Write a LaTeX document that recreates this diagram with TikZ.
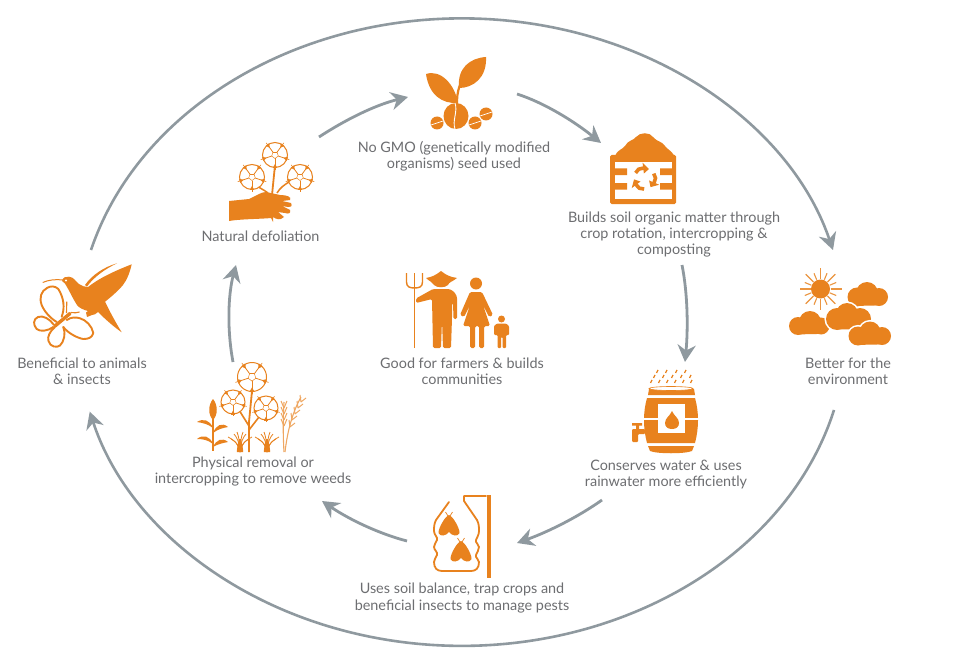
\documentclass[tikz,border=0pt]{standalone}
\usepackage{fontspec}
\setmainfont{Lato}
\usetikzlibrary{arrows.meta}
\definecolor{ico}{HTML}{E8821E}
\definecolor{lbl}{HTML}{6D6E71}
\definecolor{con}{HTML}{8F999F}
\tikzset{
  lab/.style={text=lbl,align=center,inner sep=0pt,font=\fontsize{14.4}{16.4}\selectfont},
  conn/.style={draw=con,line width=2.8pt,-{Stealth[length=17pt,width=18pt,inset=5.5pt]}},
  ring/.style={draw=con,line width=2.6pt,-{Stealth[length=17pt,width=18pt,inset=5.5pt]}},
  line ico/.style={draw=ico,fill=none,line width=2pt,line cap=round,line join=round},
}
\newcommand{\cottonfl}[3]{%
 \begin{scope}[shift={(#1,#2)}]
  \draw[draw=ico,line width=1pt,fill=white] (0,0) circle[radius=#3];
  \foreach \a in {90,162,234,306,18}{
   \draw[draw=ico,line width=.8pt] (\a:#3*.28) -- (\a:#3);
   \draw[draw=ico,line width=.5pt] (\a:#3*.28) -- (\a+72:#3*.28);
   \fill[ico] (\a:#3*.72) -- (\a+9:#3) -- (\a-9:#3) -- cycle;
   \draw[draw=ico,line width=.6pt] (\a:#3*.9) -- (\a:#3*1.2);
   \draw[draw=ico,line width=.6pt] (\a+8:#3*1.02) -- (\a-8:#3*1.02);
  }
 \end{scope}}
% three overlapping lobes, with a white edge against what lies behind
\newcommand{\cloudicon}[9]{%
  \fill[white] (#1,#2) circle[radius=#3+1.6] (#4,#5) circle[radius=#6+1.6] (#7,#8) circle[radius=#9+1.6];
  \draw[white,line width=3pt,fill=white] (#1,#2+#3) -- (#7,#8+#9) -- (#4,#5) -- cycle;
  \fill[ico] (#1,#2) circle[radius=#3] (#4,#5) circle[radius=#6] (#7,#8) circle[radius=#9];
  \fill[ico] (#1,#2+#3-.6) -- (#7,#8+#9-.6) -- (#4,#5) -- cycle;}
\newcommand{\mothicon}[2]{%
 \begin{scope}[shift={(#1,#2)}]
  \fill[ico] (0,-9) .. controls (-4,-8) and (-11,5) .. (-10.5,9) .. controls (-9,13) and (-3,12) .. (0,8) .. controls (3,12) and (9,13) .. (10.5,9) .. controls (11,5) and (4,-8) .. (0,-9) -- cycle;
  \draw[draw=ico,line width=.7pt] (-1,-8) -- (-3.5,-12) (1,-8) -- (3.5,-12);
 \end{scope}}
\newcommand{\tuft}[2]{%
 \begin{scope}[shift={(#1,#2)}]
  \foreach \dx/\h in {-12/-15,-9/-13,-6/-18,-3/-20,3/-20,6/-18,9/-13,12/-15}{
   \draw[draw=ico,line width=.8pt] (0,0) .. controls (\dx*.15,\h*.6) and (\dx*.5,\h*.8) .. (\dx,\h);}
  \fill[ico] (-3.2,0) .. controls (-3,-5) and (-2,-8) .. (-1,-13) -- (1,-13) .. controls (2,-8) and (3,-5) .. (3.2,0) -- cycle;
 \end{scope}}
\begin{document}
\begin{tikzpicture}[x=1pt,y=-1pt]
\useasboundingbox (0,0) rectangle (957,655);
\fill[white] (0,0) rectangle (957,655);

% ---- outer ring
\coordinate (ringA) at (91,250);
\coordinate (ringB) at (834,410);
\draw[ring] (ringA) arc[start angle=164.5,end angle=15.5,x radius=385pt,y radius=316pt];
\draw[ring] (ringB) arc[start angle=-14.7,end angle=-165,x radius=385pt,y radius=316pt];

% ---- inner connectors
\coordinate (a1) at (319,137); \coordinate (a2) at (408,97);
\coordinate (b1) at (517,94);  \coordinate (b2) at (601,143);
\coordinate (c1) at (682,265); \coordinate (c2) at (685,362);
\coordinate (d1) at (602,500); \coordinate (d2) at (517,543);
\coordinate (e1) at (407,541); \coordinate (e2) at (322,501);
\coordinate (f1) at (233,362); \coordinate (f2) at (236,265);
\draw[conn] (a1) .. controls (345,120) and (375,105) .. (a2);
\draw[conn] (b1) .. controls (545,103) and (575,122) .. (b2);
\draw[conn] (c1) .. controls (688,295) and (688,330) .. (c2);
\draw[conn] (d1) .. controls (575,519) and (545,533) .. (d2);
\draw[conn] (e1) .. controls (380,534) and (350,520) .. (e2);
\draw[conn] (f1) .. controls (227,330) and (228,295) .. (f2);

% ---- labels
\node[lab] (gmo) at (454,156) {No GMO (genetically modified\\organisms) seed used};
\node[lab] (soil) at (674,234.5) {Builds soil organic matter through\\crop rotation, intercropping \&\\composting};
\node[lab] (env) at (848,371) {Better for the\\environment};
\node[lab] (water) at (666,474.5) {Conserves water \& uses\\rainwater more efficiently};
\node[lab] (pests) at (462,598) {Uses soil balance, trap crops and\\beneficial insects to manage pests};
\node[lab] (weeds) at (253,471.5) {Physical removal or\\intercropping to remove weeds};
\node[lab] (animals) at (82,371) {Beneficial to animals\\\& insects};
\node[lab] (defol) at (260.5,236.5) {Natural defoliation};
\node[lab] (farmers) at (462,371) {Good for farmers \& builds\\communities};

% ---- seedling
\fill[ico] (426,74) .. controls (441,69) and (455,85) .. (458,103) .. controls (442,104) and (429,95) .. (426,74) -- cycle;
\fill[ico] (486,57) .. controls (470,58) and (457,68) .. (459,88) .. controls (473,88) and (487,78) .. (486,57) -- cycle;
\draw[draw=ico,line width=2.2pt] (460,85) .. controls (457,93) and (457,98) .. (457,105);
\fill[ico] (456,116) ellipse[x radius=12.5pt,y radius=13pt];
\draw[white,line width=.9pt] (455,103) .. controls (458,112) and (452,120) .. (455,129);
\foreach \x/\y in {437/123,475/123,486/114}{
  \fill[ico] (\x,\y) circle[radius=6.5pt];
  \draw[white,line width=.7pt] (\x-6,\y+2) -- (\x+6,\y-2);
}

% ---- compost box
\fill[ico] (615,156) .. controls (618,149) and (622,150) .. (625,146) .. controls (628,140) and (633,141) .. (636,137) .. controls (640,132) and (650,132) .. (653,137) .. controls (657,142) and (662,141) .. (665,146) .. controls (668,150) and (671,150) .. (675,157) -- cycle;
\fill[ico,rounded corners=1.5pt] (610,155) rectangle (676,204);
\fill[white] (615,162) rectangle (672,199);
\fill[ico] (615,168.5) rectangle (627,175) (660,168.5) rectangle (672,175);
\fill[ico] (615,183) rectangle (627,189.5) (660,183) rectangle (672,189.5);
\begin{scope}[shift={(644.5,178.5)}]
 \foreach \a in {0,120,240}{
  \draw[draw=ico,line width=3.6pt] (\a+92:10.5) -- (\a+118:11) -- (\a+145:10.5);
  \fill[ico] (\a+143:16) -- (\a+143:5) -- (\a+175:10.5) -- cycle;
 }
\end{scope}

% ---- sun and clouds
\fill[ico] (820.5,289) circle[radius=9.5pt];
\foreach \a in {0,22.5,...,337.5}{
  \pgfmathsetmacro{\rl}{mod(\a,45)==0 ? 11 : 7}
  \draw[draw=ico!85,line width=1.1pt] (820.5,289) ++(\a:10) -- ++(\a:\rl);
}
\cloudicon{857}{297}{9.5}{867}{293}{11}{879}{297}{9}
\cloudicon{798}{326}{9}{810}{322}{11}{821}{326}{8.5}
\cloudicon{837}{319}{11}{847}{314}{11}{860}{319}{11}
\cloudicon{858}{336}{9.5}{870}{332}{10.5}{882}{336}{9}

% ---- barrel
\fill[ico] (649,389) -- (694,389) -- (695,395) -- (648,395) -- cycle;
\draw[draw=ico,line width=.6pt,fill=white] (671,388.5) ellipse[x radius=22pt,y radius=2pt];
\fill[ico] (647,398) -- (695,398) .. controls (699,412) and (699,428) .. (695,443) -- (647,443) .. controls (643,428) and (643,412) .. (647,398) -- cycle;
\fill[ico] (648,446) -- (694,446) -- (692,451) .. controls (685,454) and (657,454) .. (650,451) -- cycle;
\fill[white] (658,404) rectangle (685,433);
\draw[white,line width=1.4pt] (644,419) -- (658,419) (685,419) -- (699,419);
\fill[ico] (672,411) .. controls (670,416) and (665,418) .. (665,423) .. controls (665,427) and (668,429) .. (672,429) .. controls (676,429) and (679,427) .. (679,423) .. controls (679,418) and (674,416) .. (672,411) -- cycle;
\fill[ico,rounded corners=1pt] (632,429) -- (645,429) -- (645,434) -- (638,434) -- (638,442) -- (632,442) -- cycle;
\fill[ico] (636,424) rectangle (639,430) (632,423) rectangle (642,425.5);
\foreach \x in {658,667,677,686} \draw[draw=ico,line width=1.3pt] (\x,370) -- (\x-1.5,373);
\foreach \x in {655,664,673,682,691} \draw[draw=ico,line width=1.3pt] (\x,375) -- (\x-1.5,378);
\foreach \x in {652,660,668,676,684,692} \draw[draw=ico,line width=1.3pt] (\x,380) -- (\x-1.5,383);

% ---- bottle trap
\draw[line ico,line width=1.8pt] (449,502) -- (436,520) .. controls (434,524) and (434,527) .. (434,531) .. controls (434,535) and (438,537) .. (437,540) .. controls (436,543) and (434,544) .. (434,547) .. controls (434,550) and (438,552) .. (437,555) .. controls (436,558) and (434,559) .. (434,562) .. controls (434,568) and (437,571) .. (442,571) -- (471,571) .. controls (476,571) and (479,568) .. (479,562) .. controls (479,559) and (475,558) .. (476,555) .. controls (477,552) and (479,550) .. (479,547) .. controls (479,544) and (475,543) .. (476,540) .. controls (477,537) and (479,535) .. (479,531) .. controls (479,527) and (479,524) .. (477,520) -- (464,501) -- (464,496) -- (486,496);
\draw[draw=ico,line width=4pt] (489,495) -- (489,578);
\mothicon{449}{524}
\mothicon{461}{550}

% ---- family
\fill[ico] (426,278) .. controls (432,277) and (436,275) .. (441,271) .. controls (446,275) and (450,277) .. (457,278) .. controls (452,282) and (449,282) .. (448,285) .. controls (445,288) and (437,288) .. (434,285) .. controls (433,282) and (430,282) .. (426,278) -- cycle;
\fill[ico,rounded corners=1.5pt] (433,289) -- (449,289) .. controls (454,291) and (457,295) .. (457,300) -- (457,319) -- (453.5,319) -- (453,303) -- (452,303) -- (452,318) -- (451,348) -- (443,348) -- (442,320) -- (441,348) -- (433,348) -- (432,299) -- (416,303) -- (416,298.5) -- cycle;
\draw[draw=ico,line width=1.6pt] (414.5,348) -- (414.5,273);
\draw[draw=ico,line width=1.4pt] (406.5,273) -- (406.5,282) .. controls (406.5,287) and (410,288) .. (414.5,288) .. controls (419,288) and (422.5,287) .. (422.5,282) -- (422.5,273);
\fill[ico] (476,283.5) circle[radius=6pt];
\fill[ico,rounded corners=1.5pt] (470,292) -- (482,292) -- (493,315) -- (489,317) -- (483,305) -- (490,326) -- (484,326) -- (484,348) -- (479,348) -- (479,326) -- (475,326) -- (475,348) -- (470,348) -- (470,326) -- (463,326) -- (470,305) -- (464,317) -- (460,315) -- cycle;
\fill[ico] (501.5,319) circle[radius=3.5pt];
\fill[ico,rounded corners=1pt] (497,323.5) -- (506,323.5) -- (509,326) -- (509,335) -- (506,335) -- (506,348) -- (502.5,348) -- (502.5,337) -- (501,337) -- (501,348) -- (497.5,348) -- (497.5,335) -- (494,335) -- (494,326) -- cycle;

% ---- natural defoliation
\draw[draw=ico,line width=1.8pt] (272,195) -- (275,165);
\draw[draw=ico,line width=1.5pt] (277,193) .. controls (280,188) and (284,185) .. (289,182);
\draw[draw=ico,line width=1.5pt] (268,193) .. controls (264,190) and (260,188) .. (255,185);
\cottonfl{275}{155}{12.5}
\cottonfl{252}{177}{12.5}
\cottonfl{300}{177}{12.5}
\fill[ico] (229,201) -- (249,199) .. controls (256,196) and (261,192) .. (266,192) -- (280,195) .. controls (287,195) and (292,197) .. (290,200) -- (282,201) -- (291,203) .. controls (293,206) and (290,208) .. (288,207) -- (282,206) -- (290,210) .. controls (291,214) and (288,214) .. (285,213) -- (278,212) -- (284,217) .. controls (280,221) and (276,219) .. (273,217) -- (273,222) -- (271,218) .. controls (262,219) and (240,219) .. (229,221) -- cycle;

% ---- weeds group
\draw[draw=ico,line width=1.8pt] (249,452) -- (249,422) -- (252,391);
\draw[draw=ico,line width=1.6pt] (249,426) -- (239,410);
\draw[draw=ico,line width=1.6pt] (249,430) -- (259,417);
\cottonfl{252}{377}{14.5}
\cottonfl{233}{402}{12}
\cottonfl{266}{408}{12}
\fill[ico] (213,399) .. controls (208,405) and (208,415) .. (213,420) .. controls (218,415) and (218,405) .. (213,399) -- cycle;
\draw[draw=ico,line width=1.6pt] (213,417) -- (213,451);
\fill[ico] (197,422) .. controls (203,418) and (210,420) .. (213,428) .. controls (208,424) and (203,423) .. (197,422) -- cycle;
\fill[ico] (197,439) .. controls (203,434) and (210,436) .. (213,444) .. controls (208,440) and (203,439) .. (197,439) -- cycle;
\fill[ico] (228,427) .. controls (222,422) and (216,425) .. (213,433) .. controls (218,429) and (223,428) .. (228,427) -- cycle;
\fill[ico] (228,442) .. controls (222,437) and (216,440) .. (213,447) .. controls (218,444) and (223,443) .. (228,442) -- cycle;
\tuft{240}{452}
\tuft{267}{452}
\draw[draw=ico!70,line width=1.1pt] (284,452) .. controls (283,435) and (283,420) .. (284,402);
\draw[draw=ico!70,line width=1.1pt] (285,452) .. controls (287,435) and (291,415) .. (301,397);
\foreach \x/\y in {284/408,284/414,284/420,284/426}{
  \draw[draw=ico!70,line width=1pt] (\x,\y) -- (\x-3,\y-7) (\x,\y) -- (\x+3,\y-7);}
\foreach \x/\y in {301/402,298/408,295/414,292/420,290/427}{
  \draw[draw=ico!70,line width=1pt] (\x,\y) -- (\x-1,\y-7) (\x,\y) -- (\x+5,\y-4);}

% ---- hummingbird
\draw[draw=ico,line width=1pt] (42.7,282.5) .. controls (48,280) and (56,279) .. (63,280);
\fill[ico] (62,281) .. controls (63,277) and (66,276.5) .. (69,276.7) .. controls (74,277) and (76,282) .. (79,284) .. controls (82,286) and (85,287) .. (88,287) .. controls (98,279) and (112,272) .. (131.7,264.3) .. controls (130,272) and (127,280) .. (123,285) .. controls (118,291) and (111,297) .. (105,301.7) .. controls (110,312) and (116,323) .. (121.7,332.3) .. controls (114,327) and (105,319) .. (98,312) .. controls (96,314) and (94,315) .. (92,315) -- (87,317) -- (86,312.5) -- (88,311) .. controls (84,310) and (79,308) .. (77,305) .. controls (73,299) and (70,292) .. (67,287) .. controls (66,284) and (64,282.5) .. (62,281) -- cycle;
\fill[white] (66,280.5) circle[radius=1.1pt];
\fill[ico] (85,285) .. controls (92,275) and (104,267) .. (117,263.3) .. controls (105,269) and (94,277) .. (87,286.5) -- cycle;
% butterfly
\draw[line ico,line width=1.9pt] (61.7,316.7) .. controls (65,308) and (64,298) .. (58.3,289) .. controls (55,285.5) and (50,286) .. (47,288) .. controls (41,291) and (39,298) .. (41.7,305) .. controls (44,311) and (50,318) .. (56.7,322);
\draw[line ico,line width=1.9pt] (54,325) .. controls (50,319) and (43,315) .. (38,317) .. controls (33,319) and (33,325) .. (36.7,329) .. controls (40,332) and (48,331) .. (53.3,327);
\draw[line ico,line width=1.9pt] (55,327) .. controls (50,331) and (47,337) .. (48.5,341) .. controls (50,347) and (57,348) .. (60,345.5) .. controls (64,342) and (66,333) .. (63.3,327);
\draw[line ico,line width=1.9pt] (66.7,320) .. controls (71,317) and (76,317) .. (80,318.3) .. controls (86,320) and (92,326) .. (93.3,333) .. controls (92,338) and (88,339) .. (83.3,339) .. controls (77,338) and (68,333) .. (63.3,327);
\draw[draw=ico,line width=3.4pt,line cap=round] (55,326) -- (70,313.5);
\draw[draw=ico,line width=1.1pt] (71,312.5) .. controls (74,313) and (77,313) .. (79.5,312);
\draw[draw=ico,line width=1.1pt] (66.5,313) -- (66.8,301.7);
\end{tikzpicture}
\end{document}
